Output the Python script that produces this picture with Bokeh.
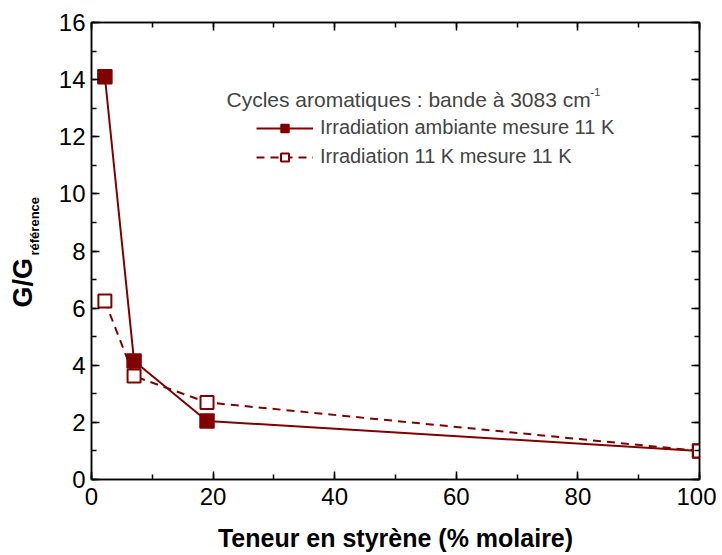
import math
from bokeh.plotting import figure
from bokeh.layouts import row
from bokeh.models import (LinearAxis, Legend, LegendItem, Label, Range1d, SingleIntervalTicker,
                          CustomJSTickFormatter)
from bokeh.embed import file_html
from bokeh.resources import INLINE

# Data
styrene = [2.2, 7.0, 19.0, 100.0]
ambiante_11k = [14.1, 4.15, 2.05, 1.0]
irr_11k = [6.25, 3.62, 2.7, 1.0]

x_ticks = [0, 20, 40, 60, 80, 100]
y_ticks = [0, 2, 4, 6, 8, 10, 12, 14, 16]

RED = "#800000"
FONT = "Liberation Sans"
H = 554
SIDE_W = 50

# Narrow strip holding the y-axis title (G/G with subscript)
side = figure(width=SIDE_W, height=H, output_backend="svg", toolbar_location=None,
              x_range=Range1d(0, SIDE_W), y_range=Range1d(0, H), min_border=0)
side.axis.visible = False
side.grid.visible = False
side.outline_line_color = None
side.add_layout(Label(x=22, y=172, x_units="screen", y_units="screen", angle=math.pi / 2,
                      text="G/G", text_font=FONT, text_font_style="bold", text_font_size="27px",
                      text_align="left", text_baseline="alphabetic", text_color="black"))
side.add_layout(Label(x=34, y=224, x_units="screen", y_units="screen", angle=math.pi / 2,
                      text="référence", text_font=FONT, text_font_style="bold", text_font_size="13px",
                      text_align="left", text_baseline="alphabetic", text_color="black"))

p = figure(width=666, height=H, output_backend="svg", toolbar_location=None,
           x_range=Range1d(0, 100), y_range=Range1d(0, 16),
           min_border_left=41, min_border_right=17, min_border_top=22, min_border_bottom=H - 480)
p.background_fill_color = "white"
p.border_fill_color = "white"
p.outline_line_color = "black"
p.outline_line_width = 1.5
p.grid.visible = False

xa = p.xaxis[0]
ya = p.yaxis[0]
xa.ticker = SingleIntervalTicker(interval=20, num_minor_ticks=2)
ya.ticker = SingleIntervalTicker(interval=2, num_minor_ticks=2)
top = LinearAxis(ticker=SingleIntervalTicker(interval=20, num_minor_ticks=2),
                 formatter=CustomJSTickFormatter(code="return ''"))
right = LinearAxis(ticker=SingleIntervalTicker(interval=2, num_minor_ticks=2),
                   formatter=CustomJSTickFormatter(code="return ''"))
p.add_layout(top, "above")
p.add_layout(right, "right")
for ax, show in [(xa, True), (ya, True), (top, False), (right, False)]:
    ax.major_tick_in = 8
    ax.major_tick_out = 0
    ax.minor_tick_in = 5
    ax.minor_tick_out = 0
    ax.axis_line_width = 1.5
    ax.major_tick_line_width = 1.5
    ax.minor_tick_line_width = 1.5
    ax.major_label_text_font = FONT
    ax.major_label_text_font_size = "24px"
    ax.major_label_text_color = "black"
    ax.major_label_standoff = 6 if show else 0
xa.major_label_standoff = 8

xa.axis_label = "Teneur en styrène (% molaire)"
xa.axis_label_text_font = FONT
xa.axis_label_text_font_style = "bold"
xa.axis_label_text_font_size = "25px"
xa.axis_label_text_color = "black"
xa.axis_label_standoff = 16

# Series
l1 = p.line(styrene, ambiante_11k, line_color=RED, line_width=2)
s1 = p.scatter(styrene, ambiante_11k, marker="square", size=14, fill_color=RED, line_color=RED, line_width=1.5)
l2 = p.line(styrene, irr_11k, line_color=RED, line_width=2, line_dash="8 6")
s2 = p.scatter(styrene, irr_11k, marker="square", size=13, fill_color="white", line_color=RED, line_width=2)

legend = Legend(items=[
    LegendItem(label="Irradiation ambiante mesure 11 K", renderers=[l1, s1]),
    LegendItem(label="Irradiation 11 K mesure 11 K", renderers=[l2, s2]),
], location=(165, 311), border_line_color=None, background_fill_alpha=0,
    label_text_font=FONT, label_text_font_size="20px", glyph_width=57, glyph_height=20,
    label_standoff=7, spacing=6, padding=0, margin=0, label_height=20)
p.add_layout(legend)

p.add_layout(Label(x=135, y=380, x_units="screen", y_units="screen",
                   text="Cycles aromatiques : bande à 3083 cm", text_font=FONT,
                   text_font_size="21px", text_baseline="middle"))
p.add_layout(Label(x=499, y=388, x_units="screen", y_units="screen",
                   text="-1", text_font=FONT, text_font_size="11px", text_baseline="middle"))

layout = row(side, p)
open("out.html", "w").write(file_html(layout, INLINE))
